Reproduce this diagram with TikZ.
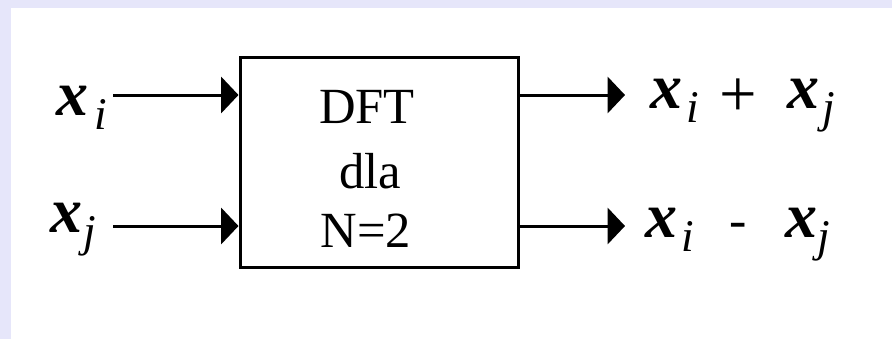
\documentclass[tikz,border=0pt]{standalone}
\usepackage{fontspec}
\setmainfont{Liberation Serif}
\usetikzlibrary{arrows.meta}
\definecolor{lav}{RGB}{230,230,250}
\newcommand\Xv{{\fontsize{48}{48}\selectfont\bfseries\itshape x}}
\newcommand\Sub[1]{\raisebox{-11pt}{\fontsize{34}{34}\selectfont\itshape #1}}
\newcommand\Op[1]{{\fontsize{39}{39}\selectfont #1}}
\newcommand\Plus{\raisebox{-6pt}{\fontsize{50}{50}\selectfont +}}
\begin{document}
\begin{tikzpicture}[x=0.75pt,y=-0.75pt,
  lbl/.style={inner sep=0pt,anchor=base west},
  boxtxt/.style={inner sep=0pt,anchor=base,font=\fontsize{38}{38}\selectfont},
  arr/.style={line width=2.25pt,-{Triangle[length=13pt,width=27pt]}},
  blk/.style={draw,line width=2.25pt,minimum width=208.5pt,minimum height=157.5pt,inner sep=0pt}]
\useasboundingbox (0,0) rectangle (892,339);
\fill[lav] (0,0) rectangle (892,339);
\fill[white] (11,8) rectangle (892,339);
\node[blk] (box) at (379,162) {};
\node[boxtxt] (t1) at (367,123) {DFT};
\node[boxtxt] (t2) at (370,188) {dla};
\node[boxtxt] (t3) at (366,247) {N=2};
\node[lbl] (li) at (56,115) {\Xv\hspace{5pt}\Sub{i}};
\node[lbl] (lj) at (50,232) {\Xv\hspace{1pt}\Sub{j}};
\node[lbl] (ri) at (650,108) {\Xv\hspace{3.5pt}\Sub{i}\hspace{15pt}\Plus\hspace{23pt}\Xv\hspace{2pt}\Sub{j}};
\node[lbl] (rj) at (645,237) {\Xv\hspace{3pt}\Sub{i}\hspace{27pt}\Op{-}\hspace{29pt}\Xv\hspace{0pt}\Sub{j}};
\coordinate (a1) at (113,95);
\coordinate (a2) at (113,226);
\coordinate (b1) at (625,95);
\coordinate (b2) at (625,226);
\draw[arr] (a1) -- (a1 -| box.west);
\draw[arr] (a2) -- (a2 -| box.west);
\draw[arr] (b1 -| box.east) -- (b1);
\draw[arr] (b2 -| box.east) -- (b2);
\end{tikzpicture}
\end{document}
